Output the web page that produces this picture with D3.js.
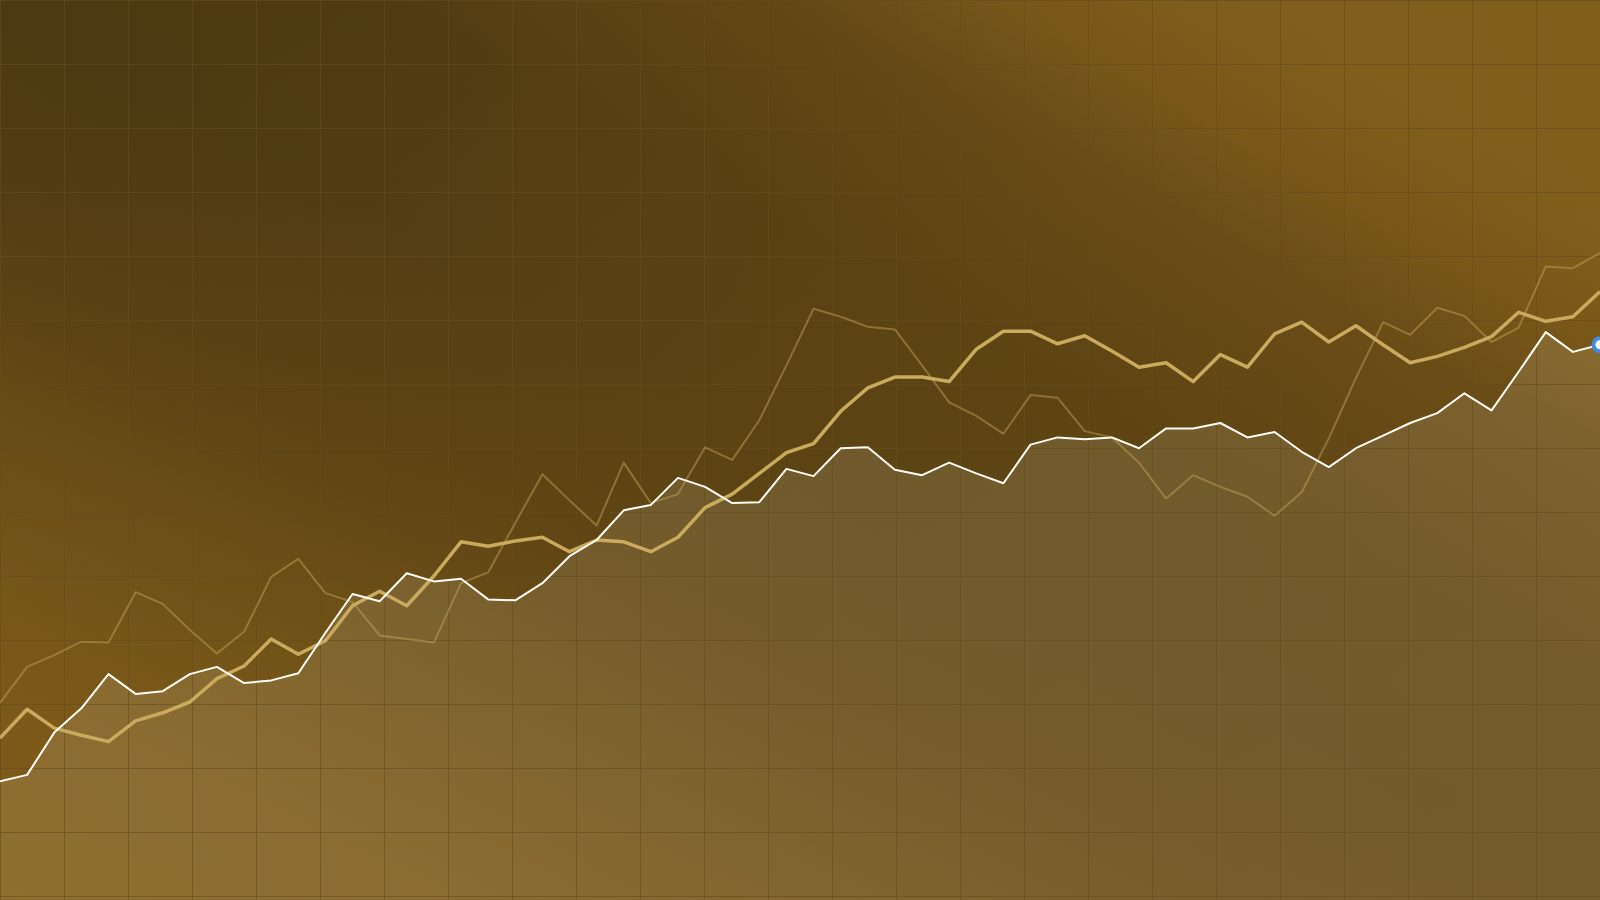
<!DOCTYPE html>
<html><head><meta charset="utf-8">
<script src="https://cdn.jsdelivr.net/npm/d3@7"></script>
<style>html,body{margin:0;padding:0;overflow:hidden;background:#4d3a12}svg{display:block}</style>
</head><body>
<svg id="chart" width="1600" height="900"></svg>
<script>
// ---- data (60 periods) ----
const periods = d3.range(60);
const primarySeries = [13.2,13.9,18.6,21.3,25.1,22.9,23.2,25.1,25.9,24.1,24.4,25.2,29.7,34.0,33.2,36.3,35.4,35.7,33.4,33.3,
  35.2,38.2,40.0,43.3,43.9,46.9,45.9,44.1,44.2,47.9,47.1,50.2,50.3,47.8,47.2,48.6,47.4,46.3,50.6,51.4,
  51.2,51.4,50.2,52.4,52.4,53.0,51.4,52.0,49.8,48.1,50.2,51.6,53.0,54.1,56.3,54.4,58.7,63.1,60.9,61.7];
const secondarySeries = [18.0,21.2,19.1,18.3,17.6,19.9,20.8,22.0,24.6,26.0,29.0,27.3,28.8,32.7,34.3,32.7,36.0,39.8,39.3,39.9,
  40.3,38.7,40.0,39.8,38.7,40.3,43.6,45.1,47.4,49.7,50.7,54.3,56.9,58.1,58.1,57.6,61.2,63.2,63.2,61.8,
  62.7,61.0,59.2,59.7,57.6,60.6,59.2,62.9,64.2,62.0,63.8,61.7,59.7,60.4,61.4,62.6,65.3,64.3,64.8,67.6];
const tertiarySeries = [21.9,25.9,27.2,28.7,28.6,34.2,32.9,30.0,27.4,29.8,35.9,37.9,34.1,33.1,29.4,29.0,28.6,35.2,36.4,41.9,
  47.3,44.4,41.6,48.6,44.1,45.1,50.3,48.9,53.3,59.4,65.7,64.8,63.7,63.4,59.4,55.3,53.8,51.8,56.1,55.8,
  52.1,51.4,48.6,44.6,47.2,45.9,44.8,42.7,45.3,51.3,58.0,64.2,62.8,65.8,64.9,62.0,63.6,70.4,70.2,71.9];
const gridColumns = d3.range(0, 26);
const gridRows = d3.range(0, 15);

const W = 1600, H = 900;
const svg = d3.select('#chart');
const defs = svg.append('defs');

const bg = defs.append('linearGradient').attr('id','bg')
  .attr('x1',0).attr('y1',1).attr('x2',1).attr('y2',0);
[[0,'#7d5a19'],[0.12,'#78571a'],[0.17,'#735419'],[0.22,'#6b4f17'],[0.28,'#634915'],[0.33,'#5a4214'],
 [0.39,'#533d12'],[0.5,'#4d3a12'],[0.62,'#4f3b11'],[0.745,'#5f4515'],[0.81,'#735419'],[0.87,'#7e5c1b'],[1,'#805e1c']]
 .forEach(([o,c]) => bg.append('stop').attr('offset',o).attr('stop-color',c));

const ov = defs.append('linearGradient').attr('id','ov')
  .attr('x1',0).attr('y1',0).attr('x2',1).attr('y2',1);
[[0.1,0],[0.45,0.23],[1,0.34]].forEach(([o,a]) =>
  ov.append('stop').attr('offset',o).attr('stop-color','#8a601a').attr('stop-opacity',a));

svg.append('rect').attr('width',W).attr('height',H).attr('fill','url(#bg)');
svg.append('rect').attr('width',W).attr('height',H).attr('fill','url(#ov)');

const x = d3.scaleLinear().domain([0, periods.length - 1]).range([0, W]);
const y = d3.scaleLinear().domain([0, 100]).range([H, 0]);
const gx = d3.scaleLinear().domain([0, 25]).range([0, W]);
const gy = d3.scaleLinear().domain([0, 14]).range([0, 896]);

// area under primary
const area = d3.area().x((d,i)=>x(i)).y0(H).y1(d=>y(d));
svg.append('path').datum(primarySeries).attr('d', area)
  .attr('fill','rgb(248,236,210)').attr('fill-opacity',0.13);

// grid
const grid = svg.append('g').attr('stroke','rgb(100,77,32)').attr('stroke-opacity',0.6).attr('stroke-width',1);
grid.selectAll('line.v').data(gridColumns).join('line').attr('class','v')
  .attr('x1',d=>Math.round(gx(d))+0.5).attr('x2',d=>Math.round(gx(d))+0.5).attr('y1',0).attr('y2',H);
grid.selectAll('line.h').data(gridRows).join('line').attr('class','h')
  .attr('y1',d=>Math.round(gy(d))+0.5).attr('y2',d=>Math.round(gy(d))+0.5).attr('x1',0).attr('x2',W);

const line = d3.line().x((d,i)=>x(i)).y(d=>y(d));
svg.append('path').datum(tertiarySeries).attr('d', line)
  .attr('fill','none').attr('stroke','#c8a860').attr('stroke-opacity',0.45).attr('stroke-width',2)
  .attr('stroke-linejoin','round');
svg.append('path').datum(secondarySeries).attr('d', line)
  .attr('fill','none').attr('stroke','#c9aa5e').attr('stroke-width',3.5)
  .attr('stroke-linejoin','round');
svg.append('path').datum(primarySeries).attr('d', line)
  .attr('fill','none').attr('stroke','#fffdf4').attr('stroke-width',2)
  .attr('stroke-linejoin','round');

const last = periods.length - 1;
svg.append('circle').attr('cx', x(last)).attr('cy', y(primarySeries[last])).attr('r',6.5)
  .attr('fill','#ffffff').attr('stroke','#3d8fe8').attr('stroke-width',4);
</script>
</body></html>
